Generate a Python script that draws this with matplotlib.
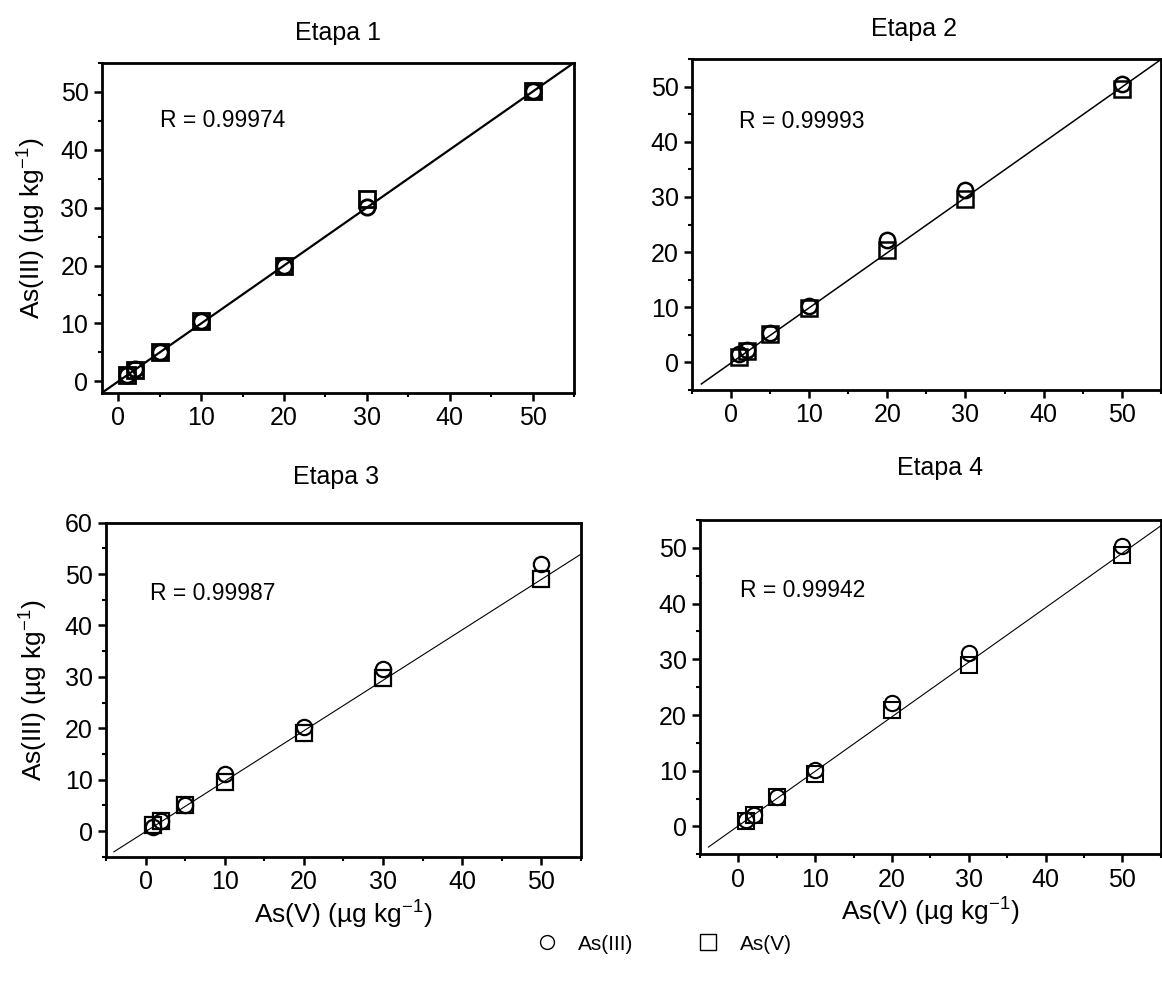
import numpy as np
import matplotlib
matplotlib.use('Agg')
import matplotlib.pyplot as plt
from matplotlib.lines import Line2D
from matplotlib.ticker import MultipleLocator

plt.rcParams['font.family'] = ['Liberation Sans', 'DejaVu Sans']
plt.rcParams['mathtext.default'] = 'regular'

#  datos
conc = [1, 2, 5, 10, 20, 30, 50]
titles = ['Etapa 1', 'Etapa 2', 'Etapa 3', 'Etapa 4']
r_values = ['R = 0.99974', 'R = 0.99993', 'R = 0.99987', 'R = 0.99942']

as3_e1 = [1.1, 2.1, 5.0, 10.5, 20.0, 30.1, 50.2]
as5_e1 = [1.1, 2.0, 5.0, 10.5, 20.0, 31.5, 50.2]
as3_e2 = [1.5, 2.2, 5.4, 10.2, 22.2, 31.2, 50.5]
as5_e2 = [1.0, 2.0, 5.1, 9.9, 20.3, 29.7, 49.6]
as3_e3 = [0.7, 2.0, 5.1, 11.1, 20.2, 31.5, 51.9]
as5_e3 = [1.1, 2.0, 5.0, 9.6, 19.1, 29.7, 49.1]
as3_e4 = [1.2, 2.1, 5.2, 10.2, 22.1, 31.1, 50.3]
as5_e4 = [1.0, 2.0, 5.2, 9.5, 20.9, 28.9, 48.8]

fit_slope = [1.0, 1.0, 0.982, 0.979]
fit_intercept = [0.0, -0.1, -0.12, 0.12]

as3_all = [as3_e1, as3_e2, as3_e3, as3_e4]
as5_all = [as5_e1, as5_e2, as5_e3, as5_e4]

fig = plt.figure(figsize=(11.62, 9.97), dpi=100)
positions = [[0.0875, 0.6058, 0.4065, 0.3313],
             [0.5955, 0.6088, 0.4035, 0.3320],
             [0.0912, 0.1407, 0.4088, 0.3350],
             [0.6024, 0.1431, 0.3966, 0.3353]]
xlims = [(-2, 55), (-5, 55), (-5, 55), (-5, 55)]
ylims = [(-2, 55), (-5, 55), (-5, 60), (-5, 55)]
fit_start = [-2, -3.8, -4.0, -3.9]
fit_lw = [1.6, 1.1, 0.8, 0.8]
mew = [2.0, 1.8, 1.6, 1.5]
r_pos = [(5, 45), (1, 43.7), (0.5, 46.2), (0.2, 42.4)]
title_pos = [(0.5, 1.09), (0.474, 1.09), (0.485, 1.137), (0.52, 1.155)]
ylab_x = [-0.114, None, -0.117, None]

for i in range(4):
    ax = fig.add_axes(positions[i])
    xf = np.array([fit_start[i], 55])
    ax.plot(xf, fit_slope[i] * xf + fit_intercept[i], color='black', lw=fit_lw[i], zorder=1)
    ax.plot(conc, as5_all[i], 's', mfc='none', mec='black', ms=11, mew=mew[i], zorder=2)
    ax.plot(conc, as3_all[i], 'o', mfc='none', mec='black', ms=11, mew=mew[i], zorder=3)
    ax.set_xlim(xlims[i])
    ax.set_ylim(ylims[i])
    ax.xaxis.set_major_locator(MultipleLocator(10))
    ax.xaxis.set_minor_locator(MultipleLocator(5))
    ax.yaxis.set_major_locator(MultipleLocator(10))
    ax.yaxis.set_minor_locator(MultipleLocator(5))
    ax.tick_params(which='major', direction='out', length=6, width=1.8, labelsize=18)
    ax.tick_params(which='minor', direction='out', length=3, width=1.5)
    for s in ax.spines.values():
        s.set_linewidth(2)
    ax.text(r_pos[i][0], r_pos[i][1], r_values[i], fontsize=16.5, ha='left', va='center')
    ax.text(title_pos[i][0], title_pos[i][1], titles[i], fontsize=18,
            ha='center', va='center', transform=ax.transAxes)
    if i in (0, 2):
        ax.set_ylabel('As(III) (µg kg$^{-1}$)', fontsize=19)
        ax.yaxis.set_label_coords(ylab_x[i], 0.5)
    if i in (2, 3):
        ax.set_xlabel('As(V) (µg kg$^{-1}$)', fontsize=19)
        ax.xaxis.set_label_coords(0.5, -0.125)

handles = [Line2D([], [], marker='o', ls='none', mfc='none', mec='black', ms=10, mew=1),
           Line2D([], [], marker='s', ls='none', mfc='none', mec='black', ms=11, mew=1)]
fig.legend(handles, ['As(III)', 'As(V)'], loc='center', bbox_to_anchor=(0.567, 0.053),
           ncol=2, frameon=False, fontsize=15, columnspacing=2.6, handletextpad=0.5)

fig.savefig('out.png', dpi=100)
